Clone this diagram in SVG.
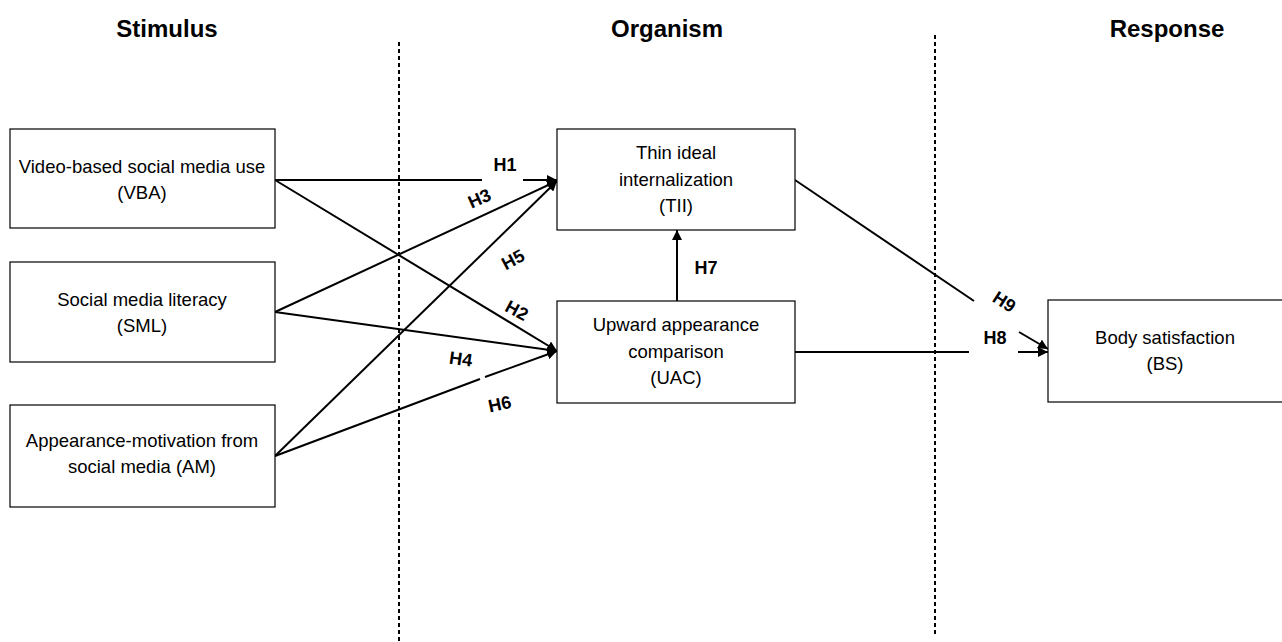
<svg xmlns="http://www.w3.org/2000/svg" width="1282" height="642" viewBox="0 0 1282 642">
<style>
.box{fill:#fff;stroke:#000;stroke-width:1.2}
.t{font-family:"Liberation Sans",Arial,sans-serif;font-size:18.5px;text-anchor:middle;fill:#000}
.h{font-family:"Liberation Sans",Arial,sans-serif;font-size:24px;font-weight:bold;text-anchor:middle;fill:#000}
.lbl{font-family:"Liberation Sans",Arial,sans-serif;font-size:18px;font-weight:bold;text-anchor:middle;fill:#000}
.c{stroke:#000;stroke-width:2;fill:none}
.d{stroke:#000;stroke-width:2;stroke-dasharray:4 3;fill:none}
</style>
<defs>
<marker id="ah" viewBox="0 0 10 10" refX="10" refY="5" markerWidth="5" markerHeight="5" orient="auto" markerUnits="strokeWidth">
<path d="M0,0 L10,5 L0,10 z" fill="#000"/>
</marker>
</defs>
<rect width="1282" height="642" fill="#fff"/>
<g id="headings">
<text class="h" x="167" y="37">Stimulus</text>
<text class="h" x="667" y="37">Organism</text>
<text class="h" x="1167" y="37">Response</text>
</g>
<g id="dividers">
<line class="d" x1="399" y1="42" x2="399" y2="642"/>
<line class="d" x1="935" y1="35" x2="935" y2="635"/>
</g>
<g id="connectors">
<path class="c" d="M275,180 L482,180"/>
<path class="c" d="M523,180 L557,180" marker-end="url(#ah)"/>
<path class="c" d="M275,312 L557,181" marker-end="url(#ah)"/>
<path class="c" d="M275,456 L557,181" marker-end="url(#ah)"/>
<path class="c" d="M275,180 L557,351" marker-end="url(#ah)"/>
<path class="c" d="M275,312 L557,351" marker-end="url(#ah)"/>
<path class="c" d="M275,456 L480,379"/>
<path class="c" d="M485,377 L557,351" marker-end="url(#ah)"/>
<path class="c" d="M677,301 L677,230" marker-end="url(#ah)"/>
<path class="c" d="M795,180 L974,301"/>
<path class="c" d="M1019,332 L1048,349" marker-end="url(#ah)"/>
<path class="c" d="M795,352 L969,352"/>
<path class="c" d="M1018,352 L1048,352" marker-end="url(#ah)"/>
<text class="lbl" x="505" y="171">H1</text>
<text class="lbl" transform="translate(482,204) rotate(-24)">H3</text>
<text class="lbl" transform="translate(516,265) rotate(-28)">H5</text>
<text class="lbl" transform="translate(514,316) rotate(28)">H2</text>
<text class="lbl" transform="translate(460,365) rotate(8)">H4</text>
<text class="lbl" transform="translate(501,410) rotate(-12)">H6</text>
<text class="lbl" x="706" y="274">H7</text>
<text class="lbl" transform="translate(1001,307) rotate(33)">H9</text>
<text class="lbl" x="995" y="344">H8</text>
</g>
<g id="vba">
<rect class="box" x="10" y="129" width="265" height="99"/>
<text class="t" x="142" y="173">Video-based social media use</text>
<text class="t" x="142" y="199">(VBA)</text>
</g>
<g id="sml">
<rect class="box" x="10" y="262" width="265" height="100"/>
<text class="t" x="142" y="306">Social media literacy</text>
<text class="t" x="142" y="332">(SML)</text>
</g>
<g id="am">
<rect class="box" x="10" y="405" width="265" height="102"/>
<text class="t" x="142" y="447">Appearance-motivation from</text>
<text class="t" x="142" y="473">social media (AM)</text>
</g>
<g id="tii">
<rect class="box" x="557" y="129" width="238" height="101"/>
<text class="t" x="676" y="159">Thin ideal</text>
<text class="t" x="676" y="186">internalization</text>
<text class="t" x="676" y="212">(TII)</text>
</g>
<g id="uac">
<rect class="box" x="557" y="301" width="238" height="102"/>
<text class="t" x="676" y="331">Upward appearance</text>
<text class="t" x="676" y="358">comparison</text>
<text class="t" x="676" y="384">(UAC)</text>
</g>
<g id="bs">
<rect class="box" x="1048" y="300" width="240" height="102"/>
<text class="t" x="1165" y="344">Body satisfaction</text>
<text class="t" x="1165" y="370">(BS)</text>
</g>
</svg>
